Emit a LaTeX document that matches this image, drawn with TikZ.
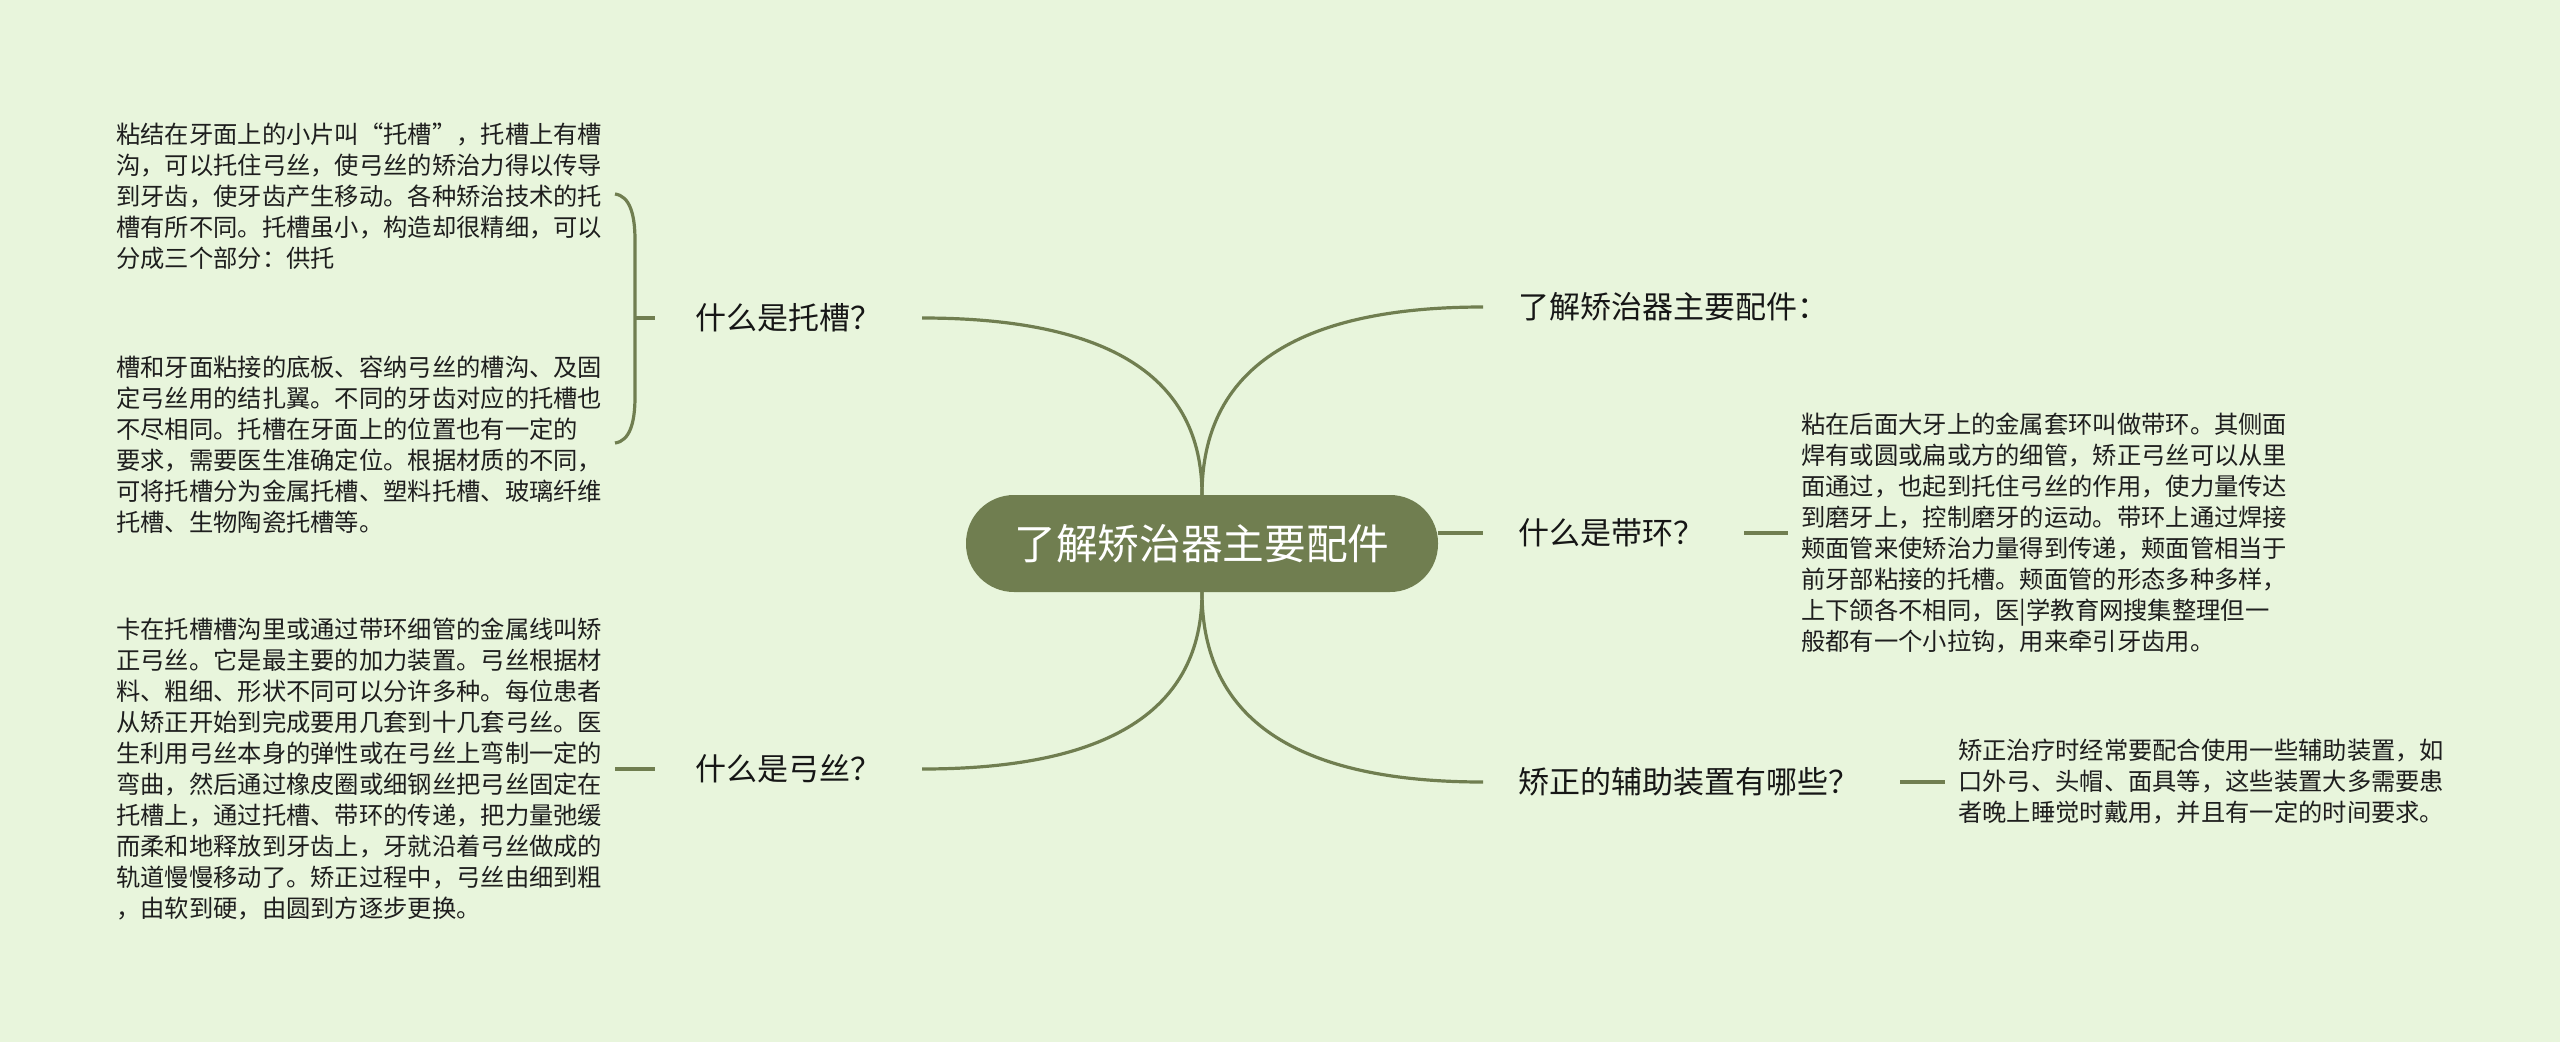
\documentclass[tikz,border=0pt]{standalone}
\usepackage{fontspec}
\setmainfont{Noto Sans CJK SC}
\definecolor{bgc}{RGB}{232,245,220}
\definecolor{mmolive}{RGB}{112,126,80}
\definecolor{txtc}{RGB}{30,30,30}
\definecolor{lblc}{RGB}{22,22,22}
\tikzset{
  conn/.style={draw=mmolive, line width=3.2pt},
  lbl/.style={font=\fontsize{31}{36}\selectfont, text=lblc, inner ysep=0pt},
  blk/.style={font=\fontsize{24.3}{31}\selectfont, text=txtc, align=left, inner ysep=0pt, inner xsep=0pt},
  root/.style={fill=mmolive, rounded corners=48pt, minimum width=472pt, minimum height=97pt,
    text=white, font=\fontsize{41.7}{48}\selectfont, inner sep=0pt}
}
\begin{document}
\begin{tikzpicture}[x=1pt,y=-1pt]
\useasboundingbox (0,0) rectangle (2560,1042);
\fill[bgc] (0,0) rectangle (2560,1042);

% root
\node[root] (root) at (1202,543.5) {了解矫治器主要配件};

% right labels
\node[lbl, anchor=west, inner xsep=35.5pt] (l1) at (1483,307) {了解矫治器主要配件：};
\node[lbl, anchor=west, inner xsep=35.5pt] (l2) at (1483,533) {什么是带环？};
\node[lbl, anchor=west, inner xsep=35.5pt] (l5) at (1483,782) {矫正的辅助装置有哪些？};
% left labels
\node[lbl, anchor=east, inner xsep=40.5pt] (l3) at (922,318) {什么是托槽？};
\node[lbl, anchor=east, inner xsep=40.5pt] (l4) at (922,769) {什么是弓丝？};

% connectors from root
\draw[conn] (root.north) .. controls +(0,-125) and +(-187,0) .. (l1.west);
\draw[conn] (root.east |- l2.west) -- (l2.west);
\draw[conn] (root.south) .. controls +(0,127) and +(-187,0) .. (l5.west);
\draw[conn] (root.north) .. controls +(0,-118) and +(187,0) .. (l3.east);
\draw[conn] (root.south) .. controls +(0,118) and +(187,0) .. (l4.east);

% text blocks
\node[blk, anchor=west] (t1a) at (116,196) {粘结在牙面上的小片叫“托槽”，托槽上有槽\\沟，可以托住弓丝，使弓丝的矫治力得以传导\\到牙齿，使牙齿产生移动。各种矫治技术的托\\槽有所不同。托槽虽小，构造却很精细，可以\\分成三个部分：供托};
\node[blk, anchor=west] (t1b) at (116,444.5) {槽和牙面粘接的底板、容纳弓丝的槽沟、及固\\定弓丝用的结扎翼。不同的牙齿对应的托槽也\\不尽相同。托槽在牙面上的位置也有一定的\\要求，需要医生准确定位。根据材质的不同，\\可将托槽分为金属托槽、塑料托槽、玻璃纤维\\托槽、生物陶瓷托槽等。};
\node[blk, anchor=west] (t4) at (116,769) {卡在托槽槽沟里或通过带环细管的金属线叫矫\\正弓丝。它是最主要的加力装置。弓丝根据材\\料、粗细、形状不同可以分许多种。每位患者\\从矫正开始到完成要用几套到十几套弓丝。医\\生利用弓丝本身的弹性或在弓丝上弯制一定的\\弯曲，然后通过橡皮圈或细钢丝把弓丝固定在\\托槽上，通过托槽、带环的传递，把力量弛缓\\而柔和地释放到牙齿上，牙就沿着弓丝做成的\\轨道慢慢移动了。矫正过程中，弓丝由细到粗\\，由软到硬，由圆到方逐步更换。};
\node[blk, anchor=west, inner xsep=13pt] (t2) at (1788,533) {粘在后面大牙上的金属套环叫做带环。其侧面\\焊有或圆或扁或方的细管，矫正弓丝可以从里\\面通过，也起到托住弓丝的作用，使力量传达\\到磨牙上，控制磨牙的运动。带环上通过焊接\\颊面管来使矫治力量得到传递，颊面管相当于\\前牙部粘接的托槽。颊面管的形态多种多样，\\上下颌各不相同，医|学教育网搜集整理但一\\般都有一个小拉钩，用来牵引牙齿用。};
\node[blk, anchor=west, inner xsep=13pt] (t3) at (1945,782) {矫正治疗时经常要配合使用一些辅助装置，如\\口外弓、头帽、面具等，这些装置大多需要患\\者晚上睡觉时戴用，并且有一定的时间要求。};

% ticks to text blocks
\coordinate (k2) at (1744,533);
\coordinate (k3) at (1900,782);
\coordinate (k4) at (615,769);
\coordinate (k1) at (635,318);
\draw[conn] (k2) -- (t2.west);
\draw[conn] (k3) -- (t3.west);
\draw[conn] (k4) -- (l4.west);
% brace for two blocks
\draw[conn] (615,194) .. controls (630,196) and (635,215) .. (635,240) -- (635,397) .. controls (635,422) and (630,441) .. (615,443);
\draw[conn] (k1) -- (l3.west);
\end{tikzpicture}
\end{document}
